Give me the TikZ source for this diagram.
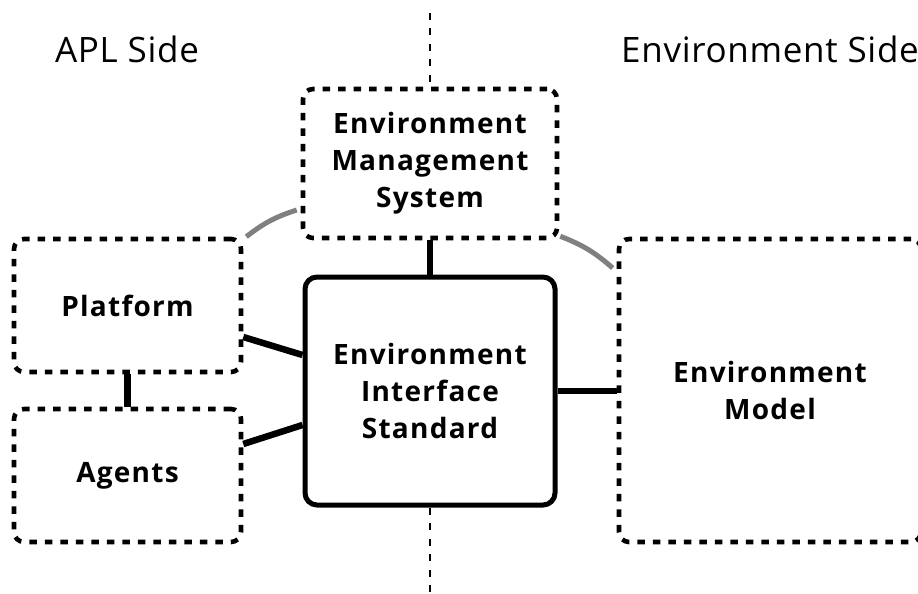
\documentclass[tikz,border=0pt]{standalone}
\usepackage{fontspec}
\setmainfont{Open Sans}[LetterSpace=2, BoldFeatures={LetterSpace=4.5}]
\usetikzlibrary{calc}

\definecolor{linkgray}{RGB}{128,128,128}

\tikzset{
  sidelabel/.style={inner sep=0pt, font=\fontsize{35}{42}\selectfont},
  dotbox/.style={draw, line width=4.6pt, dash pattern=on 7.5pt off 8pt,
    rounded corners=10pt, inner sep=0pt, align=center,
    font=\bfseries\fontsize{28}{37}\selectfont},
  solidbox/.style={draw, line width=5pt, rounded corners=12pt, inner sep=0pt,
    align=center, font=\bfseries\fontsize{28}{37}\selectfont},
  link/.style={line width=6.5pt},
  softlink/.style={line width=5pt, draw=linkgray},
  divider/.style={line width=2pt, dash pattern=on 7pt off 8.5pt}
}

\begin{document}
\begin{tikzpicture}[x=1pt, y=-1pt]
  \useasboundingbox (0,0) rectangle (918,594);

  % side headings
  \node[sidelabel, anchor=base] (apl) at (127,63) {APL Side};
  \node[sidelabel, anchor=base west] (envside) at (621,63) {Environment Side};

  % components
  \node[dotbox, minimum width=254pt, minimum height=149pt] (ems) at (430,163.5)
    {Environment\\Management\\System};
  \node[dotbox, minimum width=227pt, minimum height=133pt] (plat) at (127.5,305.5)
    {Platform};
  \node[dotbox, minimum width=227pt, minimum height=133pt] (agents) at (127.5,475.5)
    {Agents};
  \node[solidbox, minimum width=250pt, minimum height=228pt] (eis) at (430,391)
    {Environment\\Interface\\Standard};
  \node[dotbox, minimum width=302pt, minimum height=303pt] (envm) at (770,390.5)
    {Environment\\Model};

  % dividing line between the two sides
  \coordinate (divtop) at (430,13);
  \coordinate (divbot) at (430,594);
  \draw[divider] (divtop) -- (ems.north);
  \draw[divider] (eis.south) -- (divbot);

  % connections
  \draw[link] (ems.south) -- (eis.north);
  \draw[link] (plat.south) -- (agents.north);
  \draw[link] ([yshift=-31.5pt]plat.east) -- ([yshift=36pt]eis.west);
  \draw[link] ([yshift=31.5pt]agents.east) -- ([yshift=-34pt]eis.west);
  \draw[link] (eis.east) -- (eis.east -| envm.west);

  % management links
  \draw[softlink] ([xshift=3pt]plat.north east) to[bend left=10] ([xshift=-4pt,yshift=-46.5pt]ems.west);
  \draw[softlink] ([xshift=1pt,yshift=4pt]ems.south east) to[bend left=10] ([xshift=-4pt,yshift=122.5pt]envm.west);
\end{tikzpicture}
\end{document}
